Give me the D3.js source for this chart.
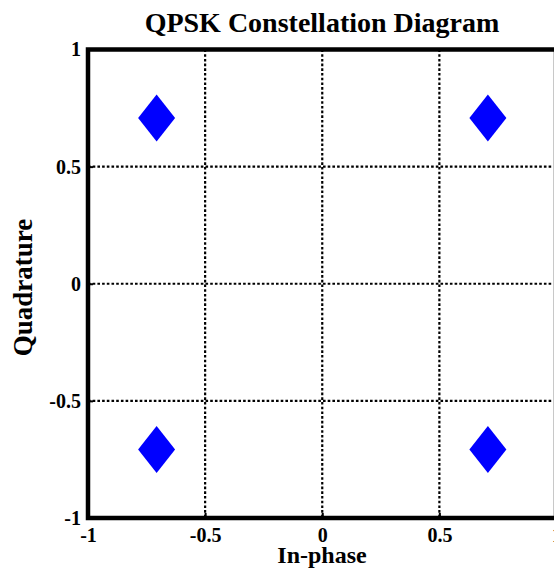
<!DOCTYPE html>
<html>
<head>
<meta charset="utf-8">
<script src="https://cdn.jsdelivr.net/npm/d3@7"></script>
<style>
  html, body { margin: 0; padding: 0; background: #fff; }
  svg { display: block; }
  text { font-family: "Liberation Serif", "Times New Roman", serif; font-weight: bold; fill: #000; }
</style>
</head>
<body>
<svg id="chart" width="554" height="576"></svg>
<script>
// QPSK symbols (in-phase / quadrature components)
const inPhase    = [0.7071, -0.7071, -0.7071, 0.7071];
const quadrature = [0.7071, 0.7071, -0.7071, -0.7071];

const xTicks = [-1, -0.5, 0, 0.5, 1];
const yTicks = [-1, -0.5, 0, 0.5, 1];
const xTickLabels = ["-1", "-0.5", "0", "0.5", "1"];
const yTickLabels = ["-1", "-0.5", "0", "0.5", "1"];

const titleText = "QPSK Constellation Diagram";
const xLabelText = "In-phase";
const yLabelText = "Quadrature";

const svg = d3.select("#chart");

const x = d3.scaleLinear().domain([-1, 1]).range([88, 556.5]);
const y = d3.scaleLinear().domain([-1, 1]).range([518, 49.5]);

// dotted grid at interior ticks
const grid = svg.append("g");
grid.selectAll("line.gx").data(xTicks.filter(d => d > -1 && d < 1)).join("line")
  .attr("x1", d => x(d)).attr("x2", d => x(d))
  .attr("y1", y(1)).attr("y2", y(-1))
  .attr("stroke", "#000").attr("stroke-width", 2.2)
  .attr("stroke-dasharray", "2.6,2.1");
grid.selectAll("line.gy").data(yTicks.filter(d => d > -1 && d < 1)).join("line")
  .attr("y1", d => y(d)).attr("y2", d => y(d))
  .attr("x1", x(-1)).attr("x2", x(1))
  .attr("stroke", "#000").attr("stroke-width", 2.2)
  .attr("stroke-dasharray", "2.6,2.1");

// axes: tick marks pointing inward, labels outside
const xAxis = d3.axisBottom(x).tickValues(xTicks)
  .tickFormat((d, i) => xTickLabels[i]).tickSizeInner(-5).tickSizeOuter(0).tickPadding(10);
const yAxis = d3.axisLeft(y).tickValues(yTicks)
  .tickFormat((d, i) => yTickLabels[i]).tickSizeInner(-5).tickSizeOuter(0).tickPadding(7);

const gx = svg.append("g").attr("transform", `translate(0,${y(-1)})`).call(xAxis);
const gy = svg.append("g").attr("transform", `translate(${x(-1)},0)`).call(yAxis);
[gx, gy].forEach(g => {
  g.select(".domain").remove();
  g.selectAll(".tick line").attr("stroke", "#000").attr("stroke-width", 2);
  g.selectAll(".tick text").style("font-size", "20px").attr("fill", "#000");
});

// thin right frame edge
svg.append("line")
  .attr("x1", 553.5).attr("x2", 553.5).attr("y1", y(1)).attr("y2", y(-1))
  .attr("stroke", "#c8c8c8").attr("stroke-width", 1);

// heavy frame: left, top, bottom
const frame = svg.append("g").attr("stroke", "#000").attr("stroke-width", 4.5).attr("fill", "none");
frame.append("path")
  .attr("d", `M${x(1)},${y(1)} L${x(-1)},${y(1)} L${x(-1)},${y(-1)} L${x(1)},${y(-1)}`)
  .attr("stroke-linecap", "square");

// diamond markers
const pts = inPhase.map((v, i) => ({ i: v, q: quadrature[i] }));
const hw = 18.5, hh = 23.5;
svg.append("g").selectAll("path").data(pts).join("path")
  .attr("transform", d => `translate(${x(d.i)},${y(d.q)})`)
  .attr("d", `M0,${-hh} L${hw},0 L0,${hh} L${-hw},0 Z`)
  .attr("fill", "#0000ff");

// titles
svg.append("text").attr("x", 322).attr("y", 32).attr("text-anchor", "middle")
  .style("font-size", "28px").text(titleText);
svg.append("text").attr("x", 322).attr("y", 563).attr("text-anchor", "middle")
  .style("font-size", "24px").text(xLabelText);
svg.append("text").attr("transform", "translate(32,287.5) rotate(-90)").attr("text-anchor", "middle")
  .style("font-size", "27px").text(yLabelText);
</script>
</body>
</html>
